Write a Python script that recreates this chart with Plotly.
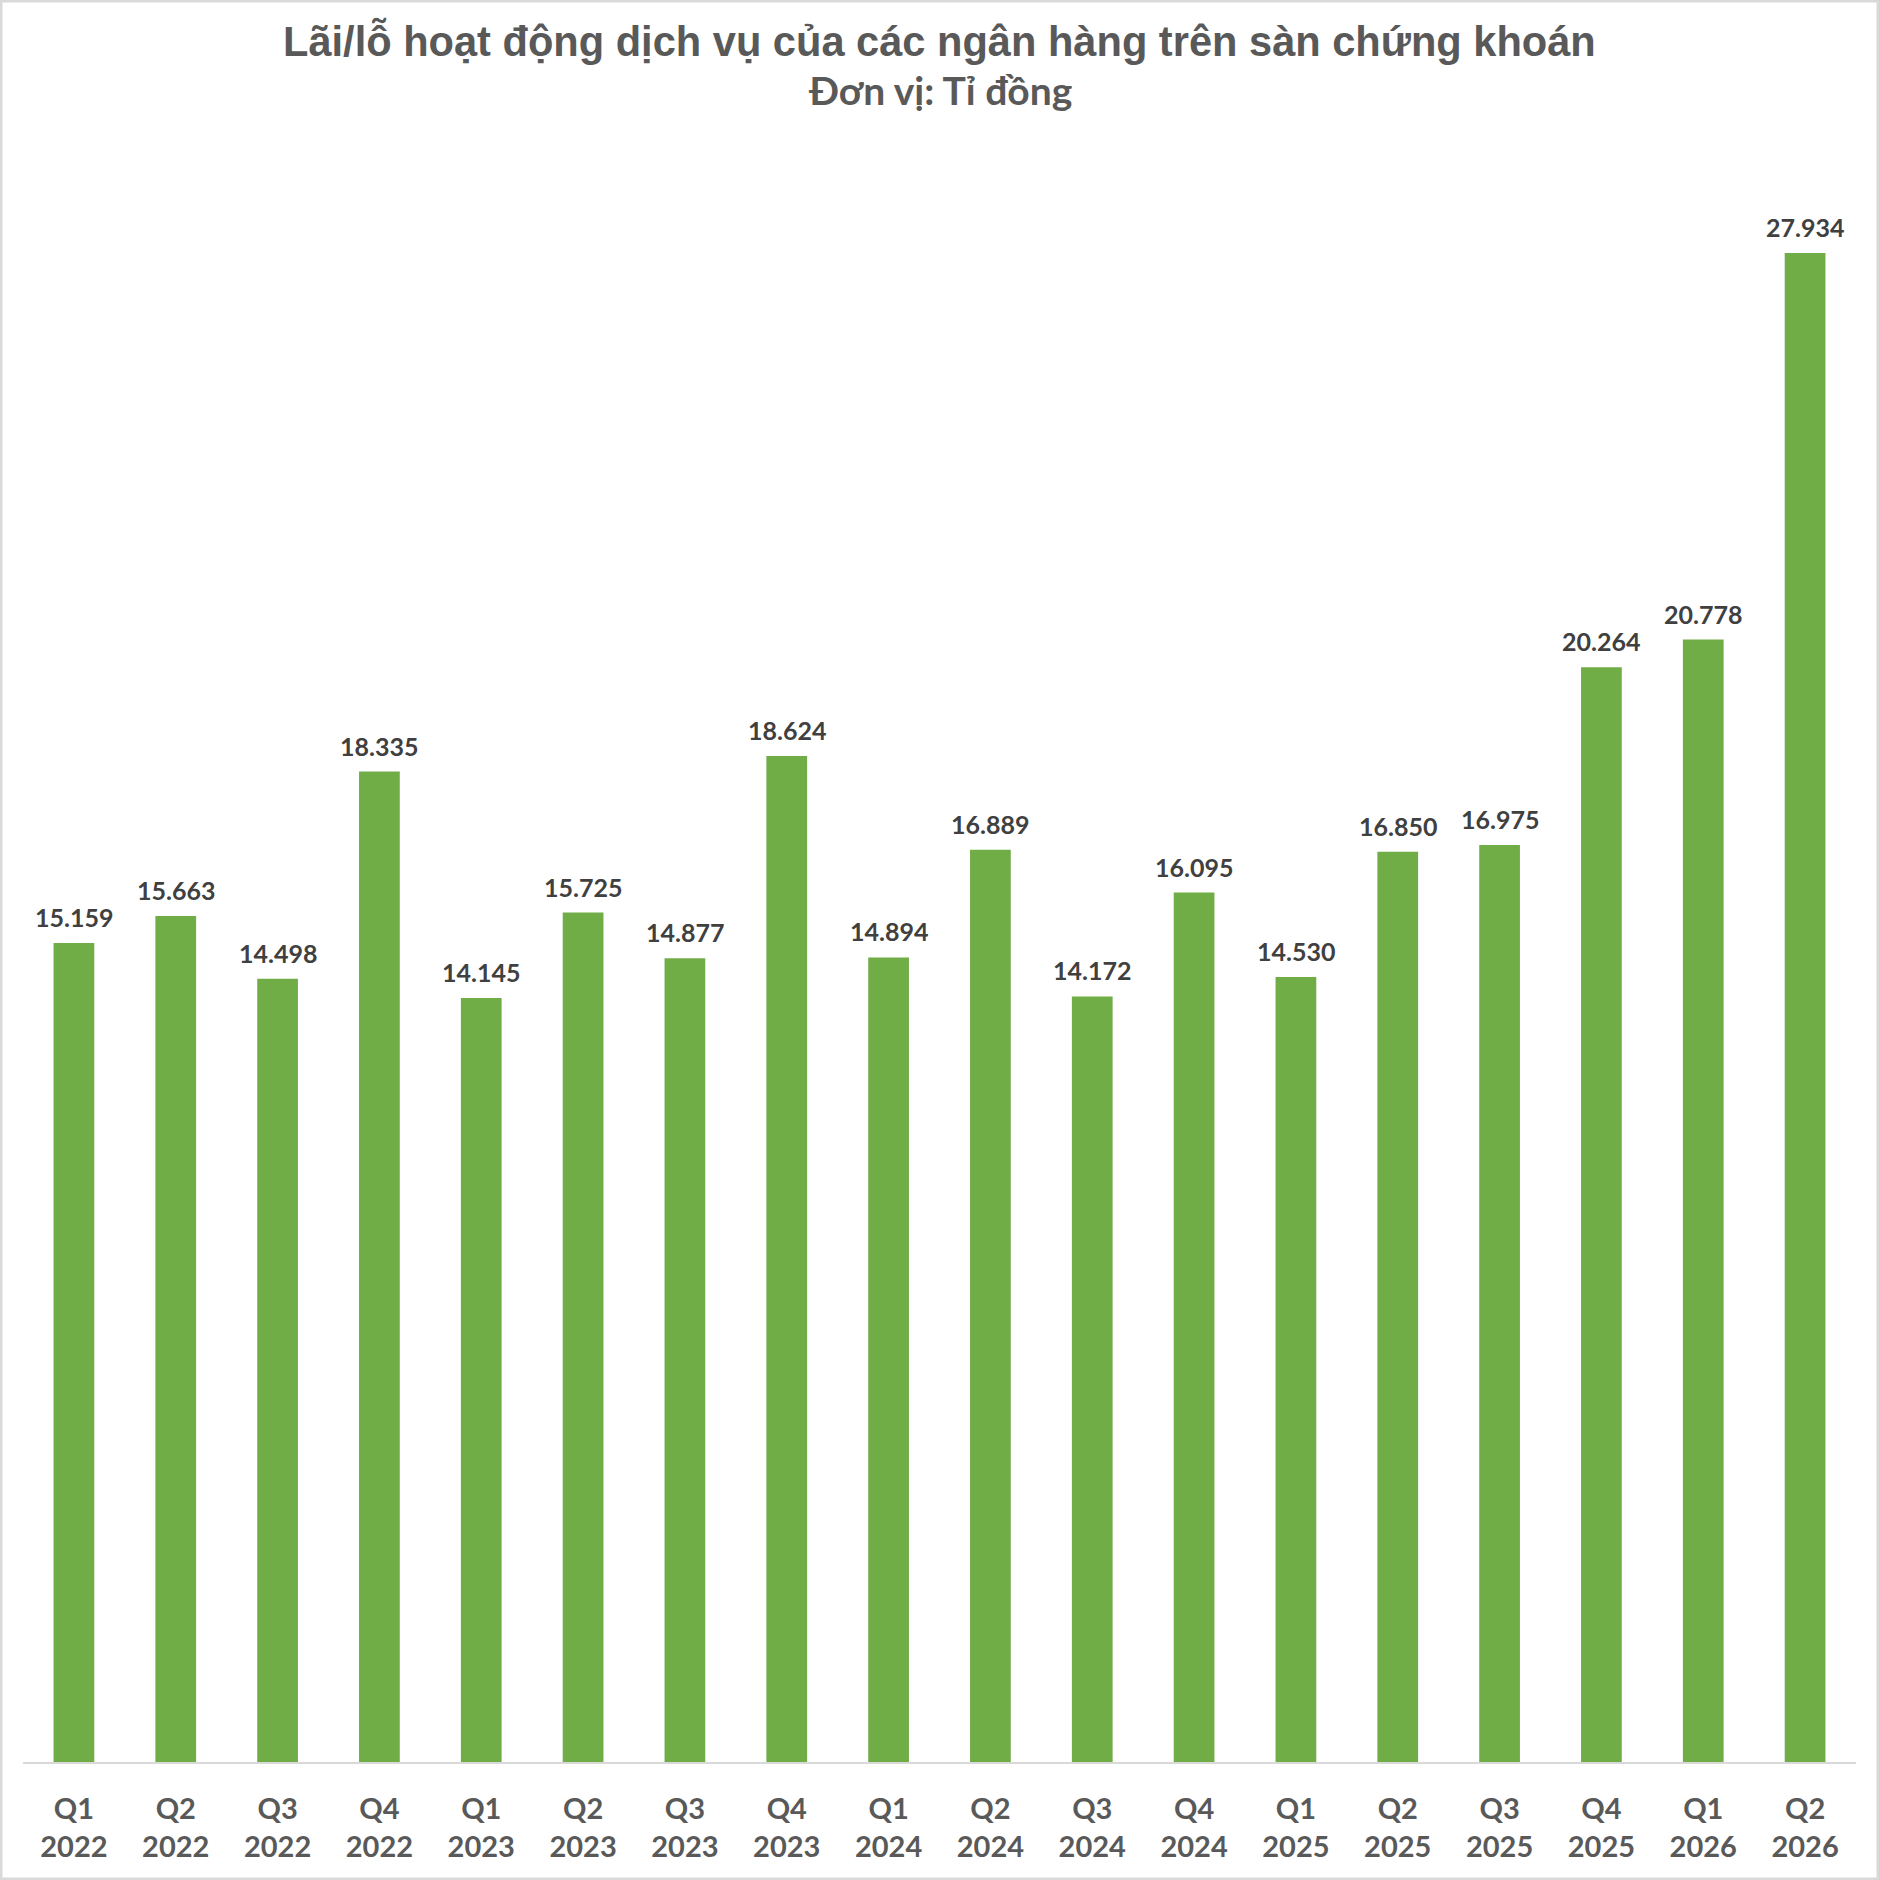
import plotly.graph_objects as go

quarters = ["Q1", "Q2", "Q3", "Q4", "Q1", "Q2", "Q3", "Q4", "Q1", "Q2", "Q3", "Q4",
            "Q1", "Q2", "Q3", "Q4", "Q1", "Q2"]
years = ["2022"] * 4 + ["2023"] * 4 + ["2024"] * 4 + ["2025"] * 4 + ["2026"] * 2
values = [15.159, 15.663, 14.498, 18.335, 14.145, 15.725, 14.877, 18.624, 14.894,
          16.889, 14.172, 16.095, 14.530, 16.850, 16.975, 20.264, 20.778, 27.934]
value_labels = ["15.159", "15.663", "14.498", "18.335", "14.145", "15.725", "14.877",
                "18.624", "14.894", "16.889", "14.172", "16.095", "14.530", "16.850",
                "16.975", "20.264", "20.778", "27.934"]

title_text = "Lãi/lỗ hoạt động dịch vụ của các ngân hàng trên sàn chứng khoán"
subtitle_text = "Đơn vị: Tỉ đồng"

W, H = 1879, 1880
ML, MR, MT, MB = 23, 23, 195, 118
plot_w = W - ML - MR
plot_h = H - MT - MB

cats = [f"{q}<br>{y}" for q, y in zip(quarters, years)]

fig = go.Figure()
fig.add_trace(go.Bar(
    x=list(range(len(values))), y=values,
    marker=dict(color="#70AD47", line=dict(width=0)),
    hoverinfo="skip",
))

# data labels above the bars
annotations = []
for i, (v, lab) in enumerate(zip(values, value_labels)):
    annotations.append(dict(
        x=i, y=v, xref="x", yref="y", text=f"<b>{lab}</b>",
        showarrow=False, yanchor="middle", yshift=26,
        font=dict(family="Lato", size=25, color="#404040"),
    ))

# title and subtitle
annotations.append(dict(
    x=0.5, y=(H - MB - 41) / plot_h, xref="paper", yref="paper",
    text=f"<b>{title_text}</b>", showarrow=False, yanchor="middle", xanchor="center",
    font=dict(family="Liberation Sans", size=41.6, color="#595959"),
))
annotations.append(dict(
    x=0.5, y=(H - MB - 90) / plot_h, xref="paper", yref="paper",
    text=f"<b>{subtitle_text}</b>", showarrow=False, yanchor="middle", xanchor="center",
    font=dict(family="Lato", size=39, color="#595959"),
))

# outer frame of the picture
fig.add_shape(
    type="rect", xref="paper", yref="paper",
    x0=(1 - ML) / plot_w, x1=(W - 1 - ML) / plot_w,
    y0=-(MB - 1) / plot_h, y1=(plot_h + MT - 1) / plot_h,
    line=dict(color="#D9D9D9", width=3), layer="below",
)

fig.update_layout(
    width=W, height=H,
    margin=dict(l=ML, r=MR, t=MT, b=MB, pad=0),
    plot_bgcolor="white", paper_bgcolor="white",
    bargap=0.6, showlegend=False,
    annotations=annotations,
    xaxis=dict(
        tickmode="array", tickvals=list(range(len(values))), ticktext=[f"<b>{c}</b>" for c in cats],
        range=[-0.5, len(values) - 0.5],
        showline=True, linecolor="#D9D9D9", linewidth=2,
        ticks="outside", ticklen=20, tickcolor="rgba(0,0,0,0)",
        showgrid=False, zeroline=False,
        tickfont=dict(family="Lato", size=29, color="#595959"),
    ),
    yaxis=dict(
        range=[0, plot_h / 54.02], visible=False, showgrid=False, zeroline=False,
    ),
)

fig.write_html(
    "out.html",
    config={"displayModeBar": False},
    post_script="document.body.style.margin='0';document.body.style.overflow='hidden';",
)
